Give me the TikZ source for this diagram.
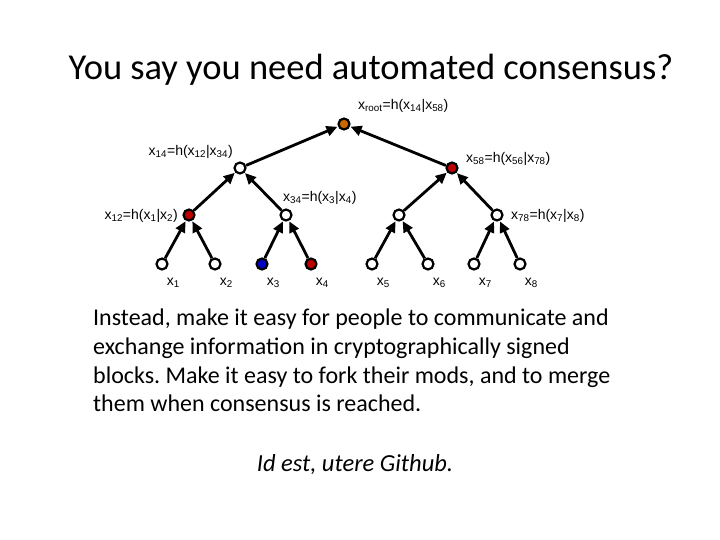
\documentclass[tikz,border=0pt]{standalone}
\usepackage{fontspec}
\setmainfont{Carlito}
\newfontfamily\lab{Liberation Sans}
\usetikzlibrary{arrows.meta}
\newcommand{\sbs}[1]{\textsubscript{#1}}
\frenchspacing
\begin{document}
\begin{tikzpicture}[x=1pt,y=-1pt,
  nd/.style={circle,draw=black,line width=2.2pt,minimum size=11pt,inner sep=0pt},
  ar/.style={line width=2.8pt,-{Triangle[length=11pt,width=10pt]},shorten >=0.5pt},
  lb/.style={font=\lab\fontsize{14}{16}\selectfont,inner sep=0pt}]
\useasboundingbox (0,0) rectangle (720,540);
\node at (371,70) {\fontsize{36.5}{40}\selectfont You say you need automated consensus?};
\node[nd,fill=orange!80!black] (r) at (344,124) {};
\node[nd,fill=white] (a) at (240,168) {};
\node[nd,fill=red!75!black] (b) at (452,168) {};
\node[nd,fill=red!75!black] (c1) at (189,215) {};
\node[nd,fill=white] (c2) at (286,215) {};
\node[nd,fill=white] (c3) at (399,215) {};
\node[nd,fill=white] (c4) at (497,215) {};
\node[nd,fill=white] (l1) at (162,264) {};
\node[nd,fill=white] (l2) at (215,264) {};
\node[nd,fill=blue!80!black] (l3) at (262,264) {};
\node[nd,fill=red!75!black] (l4) at (311,264) {};
\node[nd,fill=white] (l5) at (372,264) {};
\node[nd,fill=white] (l6) at (428,264) {};
\node[nd,fill=white] (l7) at (474,264) {};
\node[nd,fill=white] (l8) at (520,264) {};
\foreach \s/\t in {a/r,b/r,c1/a,c2/a,c3/b,c4/b,l1/c1,l2/c1,l3/c2,l4/c2,l5/c3,l6/c3,l7/c4,l8/c4}
  \draw[ar] (\s) -- (\t);
\foreach \i in {1,...,8} \node[lb,anchor=north west] (t\i) at ([xshift=0pt,yshift=-9pt]l\i.south east) {x\sbs{\i}};
\node[lb,anchor=west] (tr) at (358,106) {x\sbs{root}=h(x\sbs{14}|x\sbs{58})};
\node[lb,anchor=east] (ta) at (233,152) {x\sbs{14}=h(x\sbs{12}|x\sbs{34})};
\node[lb,anchor=west] (tb) at (466,159) {x\sbs{58}=h(x\sbs{56}|x\sbs{78})};
\node[lb,anchor=west] (tc2) at (283,198) {x\sbs{34}=h(x\sbs{3}|x\sbs{4})};
\node[lb,anchor=east] (tc1) at (178,216) {x\sbs{12}=h(x\sbs{1}|x\sbs{2})};
\node[lb,anchor=west] (tc4) at (511,216) {x\sbs{78}=h(x\sbs{7}|x\sbs{8})};
\node[anchor=north west,align=left,inner sep=0pt,font=\fontsize{24}{28.7}\selectfont] (body) at (93,309)
{Instead, make it easy for people to communicate and\\exchange information in cryptographically signed\\blocks. Make it easy to fork their mods, and to merge\\them when consensus is reached.};
\node[font=\fontsize{24.5}{28}\selectfont\itshape] (ie) at (355,465) {Id est, utere Github.};
\end{tikzpicture}
\end{document}
